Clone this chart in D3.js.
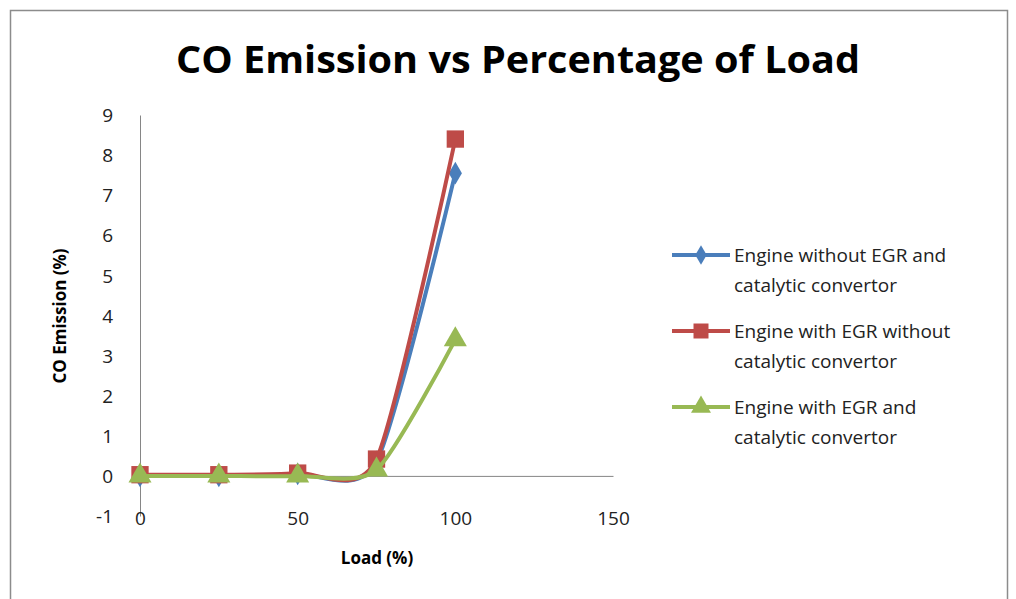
<!DOCTYPE html>
<html>
<head>
<meta charset="utf-8">
<script src="https://cdn.jsdelivr.net/npm/d3@7"></script>
<style>
  html, body { margin: 0; padding: 0; background: #fff; }
  svg { display: block; }
</style>
</head>
<body>
<script>
// Load steps (%) and CO emission (%) for each engine set-up
const loads = [0, 25, 50, 75, 100];
const withoutEgrAndCat = [0, 0, 0.05, 0.35, 7.55];
const withEgrWithoutCat = [0.03, 0.03, 0.07, 0.42, 8.4];
const withEgrAndCat = [0, 0, 0, 0.15, 3.4];

const seriesNames = [
  ["Engine without EGR and", "catalytic convertor"],
  ["Engine with EGR without", "catalytic convertor"],
  ["Engine with EGR and", "catalytic convertor"]
];
const xTicks = [0, 50, 100, 150];
const yTicks = [-1, 0, 1, 2, 3, 4, 5, 6, 7, 8, 9];

const W = 1016, H = 599;
const svg = d3.select("body").append("svg").attr("width", W).attr("height", H);

// chart frame
svg.append("rect").attr("x", 10.5).attr("y", 10.5).attr("width", 997).attr("height", 620)
  .attr("fill", "#fff").attr("stroke", "#8c8c8c").attr("stroke-width", 1.5);

// heading line above the chart, mostly cut off by the page top
svg.append("text").attr("x", 396).attr("y", -4).attr("font-family", "Liberation Sans")
  .attr("font-size", 20).attr("font-weight", "bold").text("g");

const x = d3.scaleLinear().domain([0, 150]).range([140, 613]);
const y = d3.scaleLinear().domain([-1, 9]).range([516, 115]);

const font = "'Open Sans', 'DejaVu Sans', sans-serif";
const fmt = d => String(d); // plain hyphen for negatives

// title
svg.append("text").attr("x", 518).attr("y", 73).attr("text-anchor", "middle")
  .attr("font-family", font).attr("font-weight", "bold").attr("font-size", 38)
  .attr("textLength", 684).attr("lengthAdjust", "spacingAndGlyphs")
  .attr("fill", "#000").text("CO Emission vs Percentage of Load");

// y axis
const yAxis = d3.axisLeft(y).tickValues(yTicks).tickSize(0).tickPadding(0).tickFormat(fmt);
const gy = svg.append("g").attr("transform", `translate(${x(0)},0)`).call(yAxis);
gy.select(".domain").attr("stroke", "#868686").attr("stroke-width", 1);
gy.selectAll("text").attr("x", -27).attr("dy", "0.35em")
  .attr("font-family", font).attr("font-size", 19).attr("fill", "#222");

// x axis on the zero line, labels below the plot
const xAxis = d3.axisBottom(x).tickValues(xTicks).tickSize(0).tickFormat(fmt);
const gx = svg.append("g").attr("transform", `translate(0,${y(0)})`).call(xAxis);
gx.select(".domain").attr("stroke", "#868686").attr("stroke-width", 1);
gx.selectAll("text").attr("y", y(-1) - y(0) + 2).attr("dy", "0.35em")
  .attr("font-family", font).attr("font-size", 19).attr("fill", "#222");

// axis titles
svg.append("text").attr("transform", "translate(66,316) rotate(-90)").attr("text-anchor", "middle")
  .attr("font-family", font).attr("font-weight", "bold").attr("font-size", 17)
  .attr("fill", "#000").text("CO Emission (%)");
svg.append("text").attr("x", 377).attr("y", 564).attr("text-anchor", "middle")
  .attr("font-family", font).attr("font-weight", "bold").attr("font-size", 17)
  .attr("fill", "#000").text("Load (%)");

const series = [
  { values: withoutEgrAndCat, color: "#4a7ebb", shape: d3.symbolDiamond, size: 150, legendY: 255 },
  { values: withEgrWithoutCat, color: "#be4b48", shape: d3.symbolSquare, size: 300, legendY: 331 },
  { values: withEgrAndCat, color: "#98b954", shape: d3.symbolTriangle, size: 230, legendY: 407 }
];

const line = d3.line()
  .x(d => x(d[0])).y(d => y(d[1]))
  .curve(d3.curveCardinal.tension(0.3));

series.forEach((s, i) => {
  const pts = loads.map((l, j) => [l, s.values[j]]);
  const g = svg.append("g");
  g.append("path").attr("d", line(pts)).attr("fill", "none")
    .attr("stroke", s.color).attr("stroke-width", 4).attr("stroke-linejoin", "round");
  g.selectAll("path.m").data(pts).enter().append("path").attr("class", "m")
    .attr("transform", d => `translate(${x(d[0])},${y(d[1])})`)
    .attr("d", d3.symbol().type(s.shape).size(s.size)).attr("fill", s.color);

  // legend entry
  const lg = svg.append("g");
  lg.append("line").attr("x1", 672).attr("x2", 730).attr("y1", s.legendY).attr("y2", s.legendY)
    .attr("stroke", s.color).attr("stroke-width", 4);
  lg.append("path").attr("transform", `translate(701,${s.legendY})`)
    .attr("d", d3.symbol().type(s.shape).size(s.size * 0.75)).attr("fill", s.color);
  seriesNames[i].forEach((t, k) => {
    lg.append("text").attr("x", 734).attr("y", s.legendY + k * 30).attr("dy", "0.35em")
      .attr("font-family", font).attr("font-size", 19).attr("fill", "#222").text(t);
  });
});
</script>
</body>
</html>
